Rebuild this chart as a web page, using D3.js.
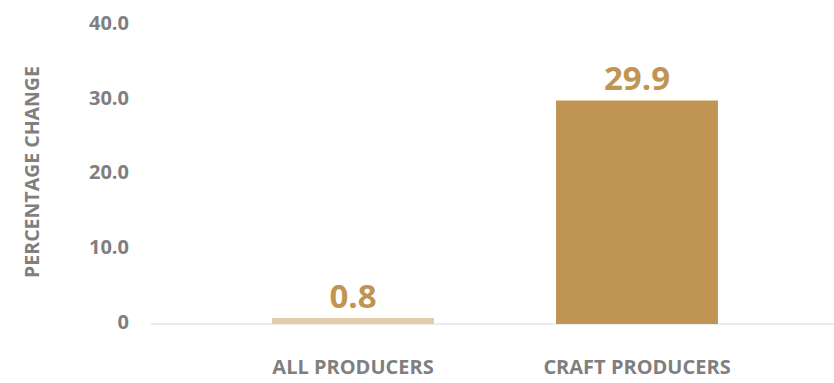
<!DOCTYPE html>
<html>
<head>
<meta charset="utf-8">
<script src="https://cdn.jsdelivr.net/npm/d3@7"></script>
<style>
  html, body { margin: 0; padding: 0; background: #ffffff; }
  svg { display: block; font-family: "Open Sans", "Noto Sans", sans-serif; }
</style>
</head>
<body>
<svg id="chart" width="834" height="383"></svg>
<script>
// Percentage change by producer group
const categories = ["ALL PRODUCERS", "CRAFT PRODUCERS"];
const values = [0.8, 29.9];
const barColors = ["#e3cca9", "#c09553"];
const yTicks = [0, 10, 20, 30, 40];
const yTickLabels = ["0", "10.0", "20.0", "30.0", "40.0"];
const yTitle = "PERCENTAGE CHANGE";

const svg = d3.select("#chart");

const x = d3.scaleBand()
  .domain(categories)
  .range([211, 779])
  .paddingInner(0.43)
  .paddingOuter(0.215);

const y = d3.scaleLinear()
  .domain([0, 40])
  .range([324, 25]);

// baseline
svg.append("line")
  .attr("x1", 151).attr("x2", 834)
  .attr("y1", y(0)).attr("y2", y(0))
  .attr("stroke", "#d9d9d9")
  .attr("stroke-width", 1);

// y axis tick labels
const yAxis = d3.axisLeft(y)
  .tickValues(yTicks)
  .tickFormat((d, i) => yTickLabels[i])
  .tickSize(0)
  .tickPadding(0);

const yG = svg.append("g")
  .attr("transform", "translate(129,-2)")
  .call(yAxis);
yG.select(".domain").remove();
yG.selectAll("text")
  .attr("fill", "#7f7f7f")
  .attr("font-size", 20)
  .attr("font-weight", 700)
  .attr("font-family", "'Open Sans', sans-serif");

// y axis title
svg.append("text")
  .attr("transform", "translate(31,172) rotate(-90)")
  .attr("text-anchor", "middle")
  .attr("dominant-baseline", "central")
  .attr("fill", "#7f7f7f")
  .attr("font-size", 19.5)
  .attr("font-weight", 700)
  .text(yTitle);

// bars
svg.selectAll("rect.bar")
  .data(categories)
  .join("rect")
  .attr("class", "bar")
  .attr("x", d => x(d))
  .attr("width", x.bandwidth())
  .attr("y", (d, i) => y(values[i]))
  .attr("height", (d, i) => y(0) - y(values[i]))
  .attr("fill", (d, i) => barColors[i]);

// value labels
svg.selectAll("text.value")
  .data(categories)
  .join("text")
  .attr("class", "value")
  .attr("x", d => x(d) + x.bandwidth() / 2)
  .attr("y", (d, i) => y(values[i]) - 10)
  .attr("text-anchor", "middle")
  .attr("fill", "#c09553")
  .attr("font-size", 33)
  .attr("font-weight", 700)
  .text((d, i) => values[i].toFixed(1));

// category labels
const xAxis = d3.axisBottom(x).tickSize(0).tickPadding(0);
const xG = svg.append("g")
  .call(xAxis);
xG.select(".domain").remove();
xG.selectAll("text")
  .attr("y", 367)
  .attr("dy", "0.35em")
  .attr("fill", "#7f7f7f")
  .attr("font-size", 20)
  .attr("font-weight", 700)
  .attr("font-family", "'Open Sans', sans-serif");
</script>
</body>
</html>
